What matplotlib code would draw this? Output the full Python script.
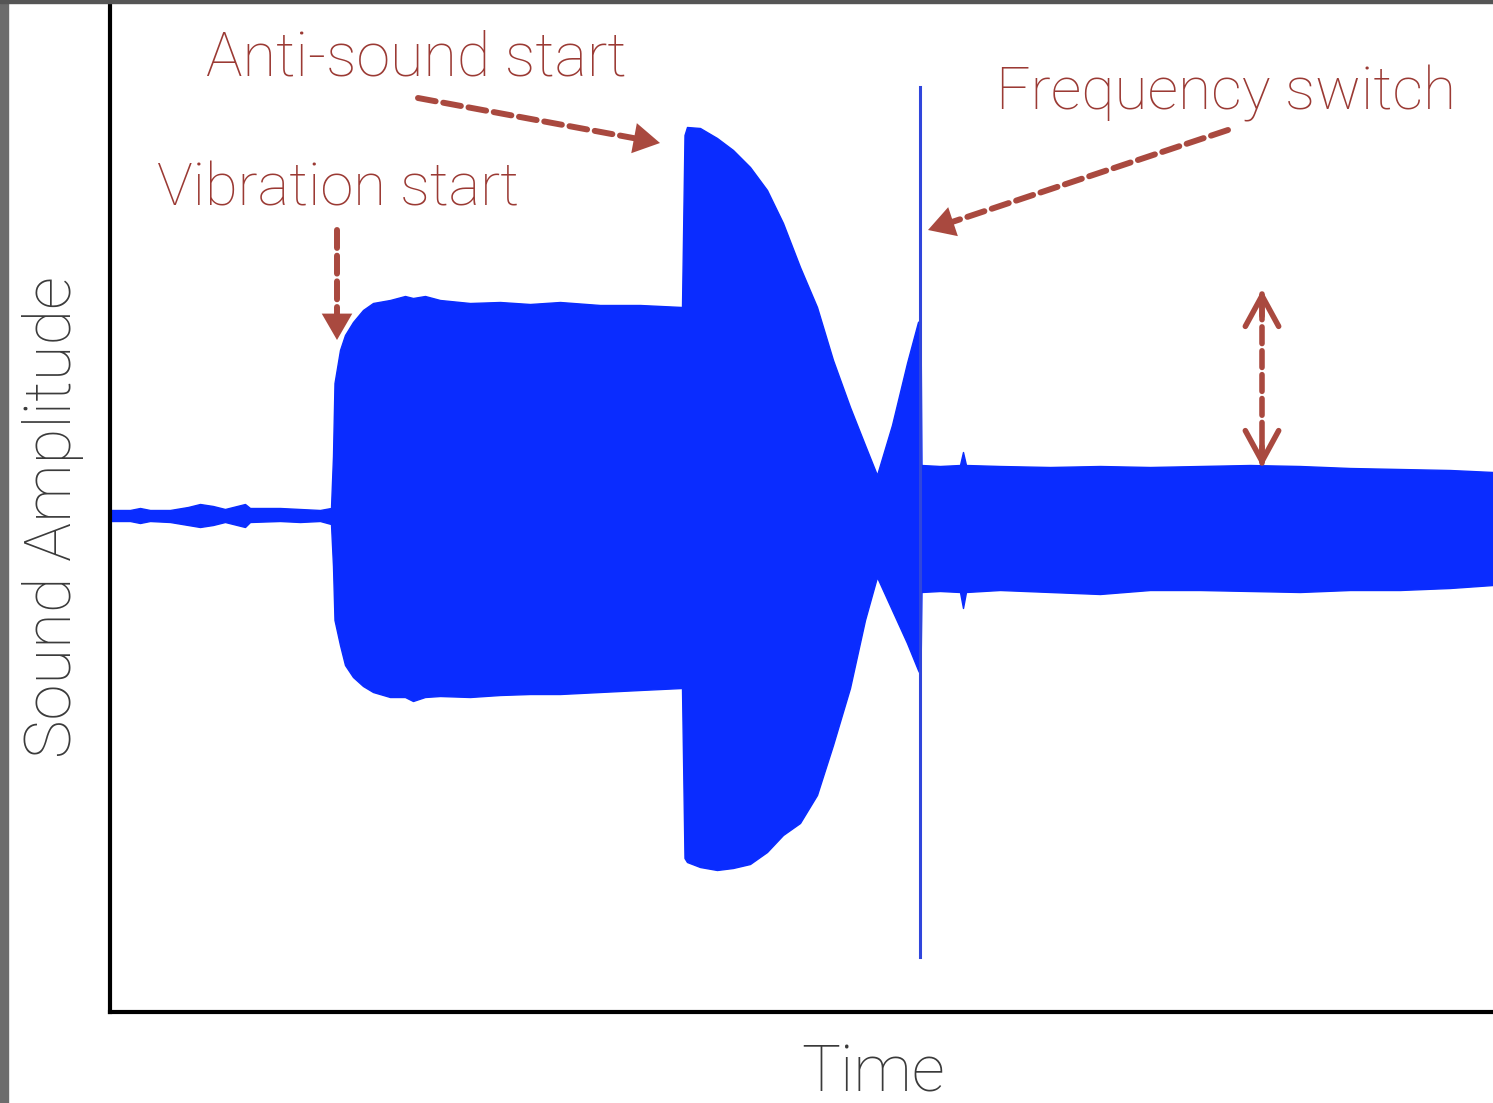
import matplotlib
matplotlib.use('Agg')
import matplotlib.pyplot as plt
from matplotlib.patches import Rectangle
import numpy as np

# envelope of the microphone recording
# (time and amplitude in arbitrary units, 0 = silence level)
time = [0, 20, 30, 40, 60, 78, 90, 103, 115, 135, 140, 170, 190, 210, 221,
        223, 224.5, 230, 235, 243, 253, 263, 280, 295, 303, 315, 330, 360, 390,
        420, 450, 490, 530, 572,
        574.5, 577, 590, 607, 623, 640, 657, 673, 690, 707, 723, 740, 755, 767,
        782, 797, 808, 810.5,
        811.5, 830, 850, 853, 856, 890, 940, 990, 1040, 1090, 1140, 1190, 1240,
        1290, 1340, 1383]
upper = [6, 6, 8, 6, 6, 9, 12, 10, 7, 12, 8, 8, 7, 6, 8,
         60, 133, 166, 181, 194, 206, 213, 216, 220, 218, 220, 216, 213, 214,
         212, 214, 211, 211, 209,
         381, 389, 388, 378, 366, 349, 326, 293, 249, 209, 156, 109, 71, 41,
         91, 153, 194, 196,
         51, 50, 51, 64, 51, 50, 49, 50, 49, 50, 51, 50, 48, 47, 46, 44]
lower = [-5, -5, -7, -5, -6, -9, -11, -9, -6, -11, -6, -5, -6, -5, -8,
         -50, -104, -129, -149, -161, -170, -176, -181, -181, -185, -181, -180,
         -181, -179, -178, -178, -176, -174, -172,
         -342, -346, -351, -354, -352, -348, -336, -319, -307, -279, -229, -172,
         -104, -61, -94, -127, -154, -159,
         -76, -75, -76, -92, -76, -74, -76, -78, -74, -74, -75, -76, -74, -74,
         -72, -69]

# the short spike at the frequency switch
switch_time = 810
switch_top = 429
switch_bottom = -441

wave_color = '#0a2cff'
note_color = '#9b3a34'
arrow_color = '#a9493f'

plt.rcParams['font.family'] = ['Roboto', 'DejaVu Sans']
plt.rcParams['font.weight'] = 'light'

fig = plt.figure(figsize=(14.93, 11.03), dpi=100)
ax = fig.add_axes([110 / 1493, 91 / 1103, 1383 / 1493, 1007 / 1103])

ax.fill_between(time, lower, upper, color=wave_color, lw=1.0, edgecolor=wave_color)
ax.plot([switch_time, switch_time], [switch_bottom, switch_top], color='#3046dc', lw=2.2)

ax.set_xlim(0, 1383)
ax.set_ylim(-496, 511)
ax.set_xticks([])
ax.set_yticks([])
for side in ['top', 'right']:
    ax.spines[side].set_visible(False)
for side in ['left', 'bottom']:
    ax.spines[side].set_linewidth(3)
    ax.spines[side].set_color('black')

ax.set_xlabel('Time', fontsize=47, color='#3a3a3a', fontweight='light')
ax.xaxis.set_label_coords(0.552, -0.0785)
ax.xaxis.label.set_verticalalignment('baseline')
ax.set_ylabel('Sound Amplitude', fontsize=47, color='#3a3a3a', fontweight='light')
ax.yaxis.set_label_coords(-0.0410, 0.4916)
ax.yaxis.label.set_verticalalignment('center')

DASH = (0, (3, 1.3))


def dashed_arrow(tail, tip):
    dx = tip[0] - tail[0]
    dy = tip[1] - tail[1]
    n = np.hypot(dx, dy)
    ux, uy = dx / n, dy / n
    end = (tip[0] - 14 * ux, tip[1] - 14 * uy)
    ax.annotate('', xy=end, xytext=tail,
                arrowprops=dict(arrowstyle='-', color=arrow_color, lw=4.3,
                                linestyle=DASH, shrinkA=0, shrinkB=0))
    back = (tip[0] - 24 * ux, tip[1] - 24 * uy)
    ax.annotate('', xy=tip, xytext=back,
                arrowprops=dict(arrowstyle='-|>,head_length=0.95,head_width=0.55',
                                color=arrow_color, lw=0, mutation_scale=20,
                                shrinkA=0, shrinkB=0))


def chevron(tip, back):
    ax.annotate('', xy=tip, xytext=back,
                arrowprops=dict(arrowstyle='->,head_length=1.1,head_width=0.6',
                                color=arrow_color, lw=4, mutation_scale=20,
                                shrinkA=0, shrinkB=0, capstyle='round',
                                joinstyle='round'))


dashed_arrow((308, 418), (550, 373))
dashed_arrow((227, 286), (227, 176))
dashed_arrow((1118, 386), (818, 286))

# double arrow showing the remaining amplitude
ax.annotate('', xy=(1152, 222), xytext=(1152, 53),
            arrowprops=dict(arrowstyle='-', color=arrow_color, lw=4,
                            linestyle=DASH, shrinkA=0, shrinkB=0))
chevron((1152, 226), (1152, 200))
chevron((1152, 49), (1152, 75))

ax.text(96, 440, 'Anti-sound start', fontsize=44, color=note_color,
        ha='left', va='baseline', fontweight='light')
ax.text(47, 310, 'Vibration start', fontsize=43, color=note_color,
        ha='left', va='baseline', fontweight='light')
ax.text(886, 406, 'Frequency switch', fontsize=43.5, color=note_color,
        ha='left', va='baseline', fontweight='light')

# grey frame of the screenshot
fig.patches.append(Rectangle((0, 0), 8 / 1493, 1, transform=fig.transFigure,
                             color='#6c6c6c', zorder=10))
fig.patches.append(Rectangle((0, 1 - 3 / 1103), 1, 3 / 1103, transform=fig.transFigure,
                             color='#555555', zorder=10))

fig.savefig('out.png', dpi=100)
